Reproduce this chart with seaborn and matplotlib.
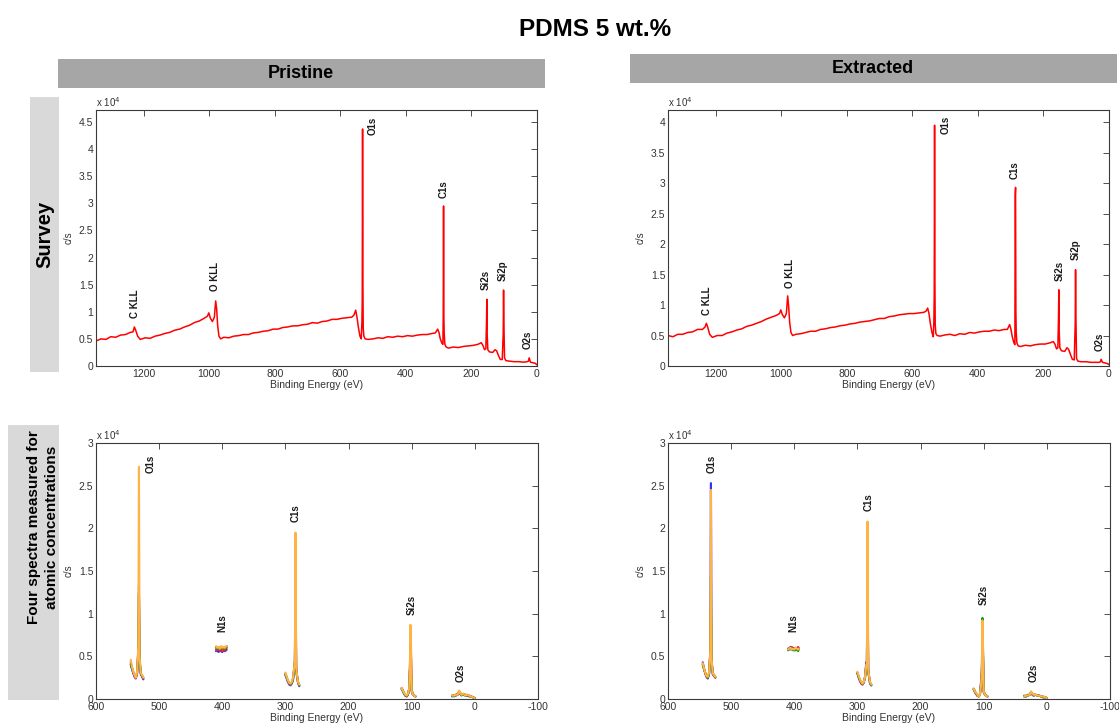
import pandas as pd
import matplotlib
matplotlib.use('Agg')
import matplotlib.pyplot as plt
from matplotlib.patches import Rectangle
from matplotlib.ticker import FuncFormatter
import seaborn as sns

# ---- survey spectra (binding energy in eV, counts in units of 1e4 c/s) ----
survey_ev = [1345, 1330, 1315, 1300, 1285, 1270, 1255, 1240, 1232, 1228,
             1224, 1218, 1210, 1195, 1180, 1165, 1150, 1135, 1120, 1105,
             1090, 1075, 1060, 1045, 1030, 1015, 1005, 1001, 996, 990,
             984, 980, 977, 974, 970, 965, 955, 940, 925, 910,
             895, 880, 865, 850, 835, 820, 805, 790, 775, 760,
             745, 730, 715, 700, 685, 670, 655, 640, 625, 610,
             595, 580, 565, 558, 553, 549, 545, 540, 536, 534,
             533, 532, 531, 530, 528, 524, 515, 500, 485, 470,
             455, 440, 425, 410, 395, 380, 365, 350, 335, 320,
             310, 303, 299, 295, 290, 287, 286, 285, 284, 283,
             281, 277, 270, 255, 240, 225, 210, 195, 180, 170,
             165, 160, 156, 154, 153, 152, 150, 145, 135, 128,
             123, 118, 112, 106, 103, 102, 101, 99, 95, 85,
             70, 55, 40, 30, 26, 24, 20, 12, 5, 2,
             0]

survey_pristine = [0.46, 0.50, 0.49, 0.54, 0.53, 0.57, 0.58, 0.62, 0.63, 0.72,
                   0.66, 0.55, 0.49, 0.52, 0.51, 0.55, 0.57, 0.60, 0.62, 0.66,
                   0.68, 0.72, 0.75, 0.80, 0.83, 0.88, 0.92, 0.98, 0.88, 0.82,
                   0.90, 1.20, 1.05, 0.75, 0.55, 0.50, 0.53, 0.52, 0.55, 0.56,
                   0.58, 0.58, 0.61, 0.62, 0.64, 0.65, 0.68, 0.68, 0.71, 0.72,
                   0.74, 0.74, 0.76, 0.77, 0.80, 0.79, 0.82, 0.83, 0.86, 0.86,
                   0.88, 0.89, 0.90, 0.94, 1.03, 0.90, 0.72, 0.55, 0.50, 0.80,
                   1.20, 4.37, 1.50, 0.70, 0.55, 0.50, 0.49, 0.50, 0.52, 0.51,
                   0.54, 0.53, 0.55, 0.54, 0.56, 0.55, 0.57, 0.58, 0.58, 0.60,
                   0.61, 0.68, 0.62, 0.50, 0.42, 0.40, 0.90, 2.95, 0.90, 0.60,
                   0.40, 0.35, 0.33, 0.35, 0.34, 0.36, 0.37, 0.38, 0.40, 0.43,
                   0.38, 0.30, 0.32, 0.80, 1.23, 0.60, 0.30, 0.26, 0.25, 0.30,
                   0.28, 0.20, 0.12, 0.12, 0.60, 1.40, 0.80, 0.15, 0.10, 0.09,
                   0.08, 0.08, 0.07, 0.08, 0.09, 0.15, 0.07, 0.06, 0.05, 0.03,
                   0.02]

survey_extracted = [0.50, 0.48, 0.52, 0.52, 0.55, 0.56, 0.60, 0.60, 0.64, 0.70,
                    0.64, 0.52, 0.47, 0.50, 0.50, 0.54, 0.56, 0.59, 0.61, 0.65,
                    0.67, 0.70, 0.73, 0.77, 0.80, 0.83, 0.86, 0.92, 0.84, 0.79,
                    0.86, 1.15, 0.98, 0.72, 0.55, 0.50, 0.52, 0.53, 0.55, 0.57,
                    0.57, 0.60, 0.61, 0.63, 0.64, 0.66, 0.67, 0.69, 0.70, 0.72,
                    0.73, 0.74, 0.76, 0.78, 0.78, 0.81, 0.82, 0.84, 0.85, 0.86,
                    0.86, 0.87, 0.88, 0.90, 0.95, 0.86, 0.70, 0.55, 0.48, 0.75,
                    1.20, 3.95, 1.40, 0.68, 0.53, 0.50, 0.49, 0.51, 0.52, 0.50,
                    0.53, 0.52, 0.55, 0.54, 0.56, 0.57, 0.57, 0.59, 0.58, 0.60,
                    0.60, 0.68, 0.60, 0.48, 0.38, 0.35, 2.80, 2.93, 0.90, 0.55,
                    0.38, 0.33, 0.32, 0.34, 0.33, 0.35, 0.36, 0.36, 0.38, 0.40,
                    0.36, 0.28, 0.30, 0.80, 1.25, 0.60, 0.30, 0.25, 0.24, 0.30,
                    0.27, 0.20, 0.11, 0.10, 0.70, 1.58, 0.85, 0.12, 0.08, 0.07,
                    0.07, 0.06, 0.06, 0.06, 0.07, 0.11, 0.06, 0.05, 0.04, 0.03,
                    0.02]

survey_labels = ['C KLL', 'O KLL', 'O1s', 'C1s', 'Si2s', 'Si2p', 'O2s']
survey_pristine_lab_x = [1225, 982, 502, 284, 157, 106, 30]
survey_pristine_lab_y = [0.88, 1.39, 4.25, 3.10, 1.40, 1.57, 0.31]
survey_extracted_lab_x = [1225, 974, 498, 287, 150, 101, 30]
survey_extracted_lab_y = [0.83, 1.28, 3.80, 3.06, 1.40, 1.74, 0.24]

# ---- narrow scans: five regions, four repeated spectra ----
o1s_ev = [545, 543, 541, 539, 537, 535, 534, 533, 532, 531, 530, 529, 527, 525]
n1s_ev = [410, 408, 406, 404, 402, 400, 398, 396, 394, 393]
c1s_ev = [300, 298, 296, 294, 292, 290, 288, 286, 285, 284, 283, 282, 280, 278]
si2s_ev = [116, 114, 112, 110, 108, 106, 104, 103, 102, 101, 100, 98, 96, 94]
o2s_ev = [36, 33, 30, 27, 25, 23, 21, 18, 15, 12, 9, 6, 3, 0]
region_names = ['O1s', 'N1s', 'C1s', 'Si2s', 'O2s']
series_names = ['blue', 'red', 'green', 'orange']

# each list: O1s | N1s | C1s | Si2s | O2s
pristine_blue = [0.40, 0.35, 0.30, 0.26, 0.24, 0.29, 0.40, 0.55, 1.22, 0.45, 0.36, 0.29, 0.26, 0.23,
                 0.56, 0.57, 0.55, 0.57, 0.56, 0.55, 0.57, 0.56, 0.57, 0.58,
                 0.28, 0.24, 0.20, 0.17, 0.16, 0.18, 0.22, 0.35, 0.42, 1.22, 0.36, 0.28, 0.19, 0.15,
                 0.12, 0.09, 0.06, 0.04, 0.03, 0.05, 0.11, 0.30, 0.60, 0.45, 0.09, 0.05, 0.04, 0.03,
                 0.03, 0.04, 0.04, 0.05, 0.08, 0.06, 0.05, 0.05, 0.04, 0.04, 0.03, 0.03, 0.02, 0.01]
pristine_red = [0.43, 0.37, 0.31, 0.27, 0.25, 0.30, 0.43, 0.60, 1.32, 0.48, 0.37, 0.29, 0.27, 0.24,
                0.58, 0.57, 0.59, 0.57, 0.58, 0.56, 0.58, 0.57, 0.59, 0.60,
                0.30, 0.25, 0.21, 0.18, 0.17, 0.19, 0.23, 0.37, 0.44, 1.78, 0.37, 0.29, 0.19, 0.16,
                0.13, 0.10, 0.07, 0.04, 0.03, 0.05, 0.12, 0.33, 0.65, 0.50, 0.10, 0.05, 0.04, 0.03,
                0.04, 0.04, 0.05, 0.05, 0.09, 0.07, 0.05, 0.06, 0.04, 0.05, 0.04, 0.03, 0.02, 0.01]
pristine_green = [0.41, 0.36, 0.32, 0.28, 0.26, 0.31, 0.42, 0.57, 1.25, 0.46, 0.38, 0.30, 0.27, 0.25,
                  0.60, 0.59, 0.61, 0.58, 0.60, 0.59, 0.61, 0.59, 0.60, 0.62,
                  0.29, 0.25, 0.21, 0.19, 0.17, 0.19, 0.24, 0.36, 0.43, 1.27, 0.37, 0.30, 0.20, 0.16,
                  0.12, 0.10, 0.06, 0.04, 0.04, 0.05, 0.12, 0.34, 0.35, 0.30, 0.10, 0.05, 0.04, 0.03,
                  0.04, 0.03, 0.05, 0.06, 0.08, 0.06, 0.04, 0.06, 0.05, 0.04, 0.04, 0.03, 0.02, 0.01]
pristine_orange = [0.46, 0.38, 0.32, 0.28, 0.25, 0.31, 0.45, 0.62, 2.72, 0.50, 0.40, 0.30, 0.28, 0.25,
                   0.62, 0.60, 0.61, 0.59, 0.62, 0.60, 0.61, 0.60, 0.62, 0.62,
                   0.31, 0.26, 0.22, 0.19, 0.18, 0.20, 0.25, 0.38, 0.45, 1.95, 0.38, 0.30, 0.20, 0.17,
                   0.13, 0.10, 0.07, 0.05, 0.04, 0.06, 0.12, 0.35, 0.87, 0.60, 0.10, 0.05, 0.04, 0.03,
                   0.04, 0.04, 0.05, 0.05, 0.10, 0.07, 0.05, 0.06, 0.04, 0.05, 0.04, 0.03, 0.02, 0.01]

extracted_blue = [0.43, 0.36, 0.30, 0.26, 0.24, 0.29, 0.40, 0.55, 2.53, 0.45, 0.36, 0.29, 0.27, 0.25,
                  0.59, 0.58, 0.61, 0.58, 0.60, 0.57, 0.59, 0.58, 0.60, 0.59,
                  0.30, 0.25, 0.21, 0.18, 0.17, 0.19, 0.26, 0.43, 0.40, 1.40, 0.34, 0.28, 0.18, 0.16,
                  0.11, 0.08, 0.06, 0.04, 0.03, 0.05, 0.22, 0.30, 0.60, 0.45, 0.08, 0.05, 0.04, 0.03,
                  0.03, 0.03, 0.04, 0.05, 0.07, 0.05, 0.04, 0.05, 0.04, 0.04, 0.03, 0.02, 0.02, 0.01]
extracted_red = [0.40, 0.35, 0.30, 0.26, 0.25, 0.30, 0.41, 0.56, 1.08, 0.46, 0.37, 0.29, 0.27, 0.25,
                 0.58, 0.60, 0.59, 0.61, 0.58, 0.59, 0.60, 0.58, 0.61, 0.60,
                 0.31, 0.26, 0.22, 0.19, 0.17, 0.20, 0.25, 0.40, 0.41, 1.50, 0.35, 0.29, 0.19, 0.17,
                 0.12, 0.09, 0.06, 0.04, 0.03, 0.05, 0.20, 0.32, 0.65, 0.50, 0.09, 0.05, 0.04, 0.03,
                 0.03, 0.04, 0.04, 0.05, 0.08, 0.06, 0.05, 0.05, 0.04, 0.04, 0.03, 0.03, 0.02, 0.01]
extracted_green = [0.41, 0.35, 0.31, 0.27, 0.25, 0.30, 0.41, 0.56, 1.44, 0.46, 0.37, 0.30, 0.28, 0.26,
                   0.57, 0.59, 0.58, 0.60, 0.57, 0.58, 0.57, 0.59, 0.56, 0.58,
                   0.30, 0.26, 0.22, 0.19, 0.18, 0.20, 0.25, 0.39, 0.40, 1.85, 0.36, 0.28, 0.19, 0.16,
                   0.12, 0.09, 0.06, 0.04, 0.03, 0.05, 0.18, 0.31, 0.95, 0.55, 0.09, 0.05, 0.04, 0.03,
                   0.04, 0.03, 0.05, 0.05, 0.08, 0.06, 0.04, 0.05, 0.04, 0.04, 0.03, 0.02, 0.02, 0.01]
extracted_orange = [0.42, 0.36, 0.31, 0.27, 0.26, 0.31, 0.42, 0.58, 2.45, 0.47, 0.38, 0.30, 0.28, 0.26,
                    0.58, 0.59, 0.60, 0.58, 0.59, 0.58, 0.60, 0.59, 0.58, 0.59,
                    0.32, 0.27, 0.23, 0.20, 0.18, 0.20, 0.26, 0.40, 0.42, 2.08, 0.36, 0.29, 0.20, 0.17,
                    0.12, 0.09, 0.07, 0.05, 0.03, 0.05, 0.18, 0.30, 0.92, 0.55, 0.09, 0.05, 0.04, 0.03,
                    0.03, 0.04, 0.04, 0.05, 0.09, 0.06, 0.05, 0.05, 0.04, 0.04, 0.03, 0.03, 0.02, 0.01]

narrow_labels = ['O1s', 'N1s', 'C1s', 'Si2s', 'O2s']
narrow_pristine_lab_x = [513, 400, 284, 100, 22]
narrow_pristine_lab_y = [2.65, 0.79, 2.08, 0.98, 0.20]
narrow_extracted_lab_x = [531, 402, 283, 100, 21]
narrow_extracted_lab_y = [2.65, 0.79, 2.20, 1.10, 0.20]

W, H = 1119, 725


def fx(px):
    return px / W


def fy(py):
    return 1 - py / H


def narrow_frame(values_by_series):
    regions = [o1s_ev, n1s_ev, c1s_ev, si2s_ev, o2s_ev]
    rows = []
    for name, values in zip(series_names, values_by_series):
        i = 0
        for reg_name, evs in zip(region_names, regions):
            for ev in evs:
                rows.append({'ev': ev, 'cps': values[i], 'series': name, 'region': reg_name})
                i += 1
    return pd.DataFrame(rows)


def style_axes(ax, xlim, ylim, xticks, yticks):
    ax.set_xlim(*xlim)
    ax.set_ylim(*ylim)
    ax.set_xticks(xticks)
    ax.set_yticks(yticks)
    ax.yaxis.set_major_formatter(FuncFormatter(lambda v, p: '%g' % v))
    ax.xaxis.set_major_formatter(FuncFormatter(lambda v, p: '%d' % round(v)))
    ax.tick_params(direction='in', top=True, right=True, length=4, width=0.6,
                   colors='#333333', labelsize=7.5, pad=2)
    for sp in ax.spines.values():
        sp.set_color('#3a3a3a')
        sp.set_linewidth(0.8)
    ax.set_xlabel('Binding Energy (eV)', fontsize=7.5, color='#333333', labelpad=1)
    ax.set_ylabel('c/s', fontsize=7, color='#333333', labelpad=4)
    ax.text(0.0, 1.004, r'x 10$^{4}$', transform=ax.transAxes, fontsize=7,
            color='#333333', ha='left', va='bottom')
    ax.grid(False)


def annotate(ax, labels, xs, ys):
    for lab, x, y in zip(labels, xs, ys):
        ax.text(x, y, lab, rotation=90, ha='center', va='bottom',
                fontsize=7, fontweight='bold', color='#1a1a1a')


sns.set_theme(style='white')
plt.rcParams['font.family'] = ['Liberation Sans', 'DejaVu Sans']

fig = plt.figure(figsize=(W / 100, H / 100), dpi=100)

# survey panels
survey_panels = [
    (96, 441, survey_pristine, (0, 4.72), [0, 0.5, 1, 1.5, 2, 2.5, 3, 3.5, 4, 4.5],
     survey_pristine_lab_x, survey_pristine_lab_y),
    (668, 441, survey_extracted, (0, 4.2), [0, 0.5, 1, 1.5, 2, 2.5, 3, 3.5, 4],
     survey_extracted_lab_x, survey_extracted_lab_y),
]
for left, width, values, ylim, yticks, lx, ly in survey_panels:
    ax = fig.add_axes([fx(left), fy(366), width / W, 256 / H])
    sns.lineplot(x=survey_ev, y=values, ax=ax, color='#ff0000', linewidth=1.1,
                 estimator=None)
    style_axes(ax, (1345, 0), ylim, [1200, 1000, 800, 600, 400, 200, 0], yticks)
    annotate(ax, survey_labels, lx, ly)

# narrow-scan panels
palette = {'blue': '#3333ff', 'red': '#ff2020', 'green': '#1a9a1a', 'orange': '#ffb347'}
narrow_panels = [
    (96, [pristine_blue, pristine_red, pristine_green, pristine_orange],
     narrow_pristine_lab_x, narrow_pristine_lab_y),
    (668, [extracted_blue, extracted_red, extracted_green, extracted_orange],
     narrow_extracted_lab_x, narrow_extracted_lab_y),
]
for left, series_values, lx, ly in narrow_panels:
    ax = fig.add_axes([fx(left), fy(699), 442 / W, 256 / H])
    df = narrow_frame(series_values)
    sns.lineplot(data=df, x='ev', y='cps', hue='series', units='region',
                 estimator=None, hue_order=series_names, palette=palette,
                 linewidth=1.5, legend=False, ax=ax)
    style_axes(ax, (600, -100), (0, 3), [600, 500, 400, 300, 200, 100, 0, -100],
               [0, 0.5, 1, 1.5, 2, 2.5, 3])
    annotate(ax, narrow_labels, lx, ly)

# headers and side labels
fig.text(fx(595), fy(29), 'PDMS 5 wt.%', ha='center', va='center',
         fontsize=17.5, fontweight='bold', color='black')
fig.add_artist(Rectangle((fx(58), fy(88)), 487 / W, 29 / H,
                         transform=fig.transFigure, color='#a6a6a6', lw=0))
fig.text(fx(301), fy(73.5), 'Pristine', ha='center', va='center',
         fontsize=13, fontweight='bold', color='black')
fig.add_artist(Rectangle((fx(630), fy(83)), 487 / W, 29 / H,
                         transform=fig.transFigure, color='#a6a6a6', lw=0))
fig.text(fx(873), fy(68.5), 'Extracted', ha='center', va='center',
         fontsize=13, fontweight='bold', color='black')

fig.add_artist(Rectangle((fx(30), fy(372)), 29 / W, 275 / H,
                         transform=fig.transFigure, color='#d9d9d9', lw=0))
fig.text(fx(45), fy(234), 'Survey', rotation=90, ha='center', va='center',
         fontsize=14.5, fontweight='bold', color='black')
fig.add_artist(Rectangle((fx(8), fy(700)), 51 / W, 275 / H,
                         transform=fig.transFigure, color='#d9d9d9', lw=0))
fig.text(fx(43), fy(527), 'Four spectra measured for\natomic concentrations',
         rotation=90, ha='center', va='center', multialignment='center',
         fontsize=11, fontweight='bold', color='black', linespacing=1.3)

fig.savefig('out.png', dpi=100)
